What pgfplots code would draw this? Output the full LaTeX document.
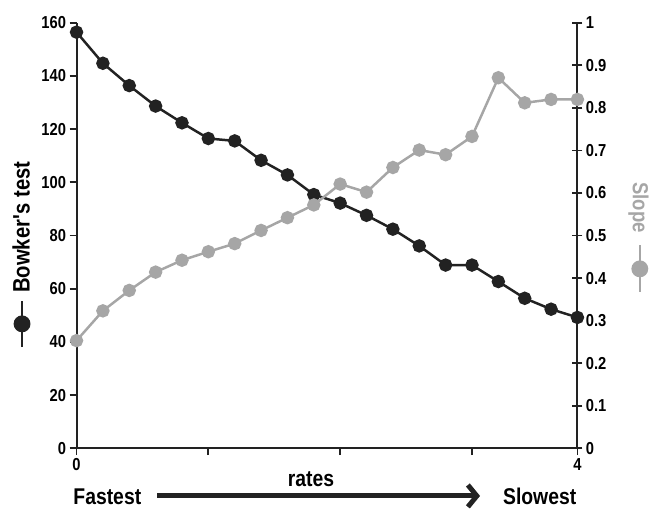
\documentclass[border=0pt]{standalone}
\usepackage{fontspec}
\setmainfont{Liberation Sans}[FakeStretch=0.85]
\usepackage{pgfplots}
\pgfplotsset{compat=1.18}
\usetikzlibrary{arrows.meta}
\definecolor{dk}{HTML}{222222}
\definecolor{gr}{HTML}{A6A6A6}

% legend-like symbol inside the y labels
\newcommand{\legsym}[1]{\tikz[baseline=-0.6ex]{\draw[#1,line width=1.8bp] (0,0)--(47bp,0); \fill[#1] (23.5bp,0) circle (8.5bp);}}

\begin{document}
\begin{tikzpicture}
\pgfplotsset{
  every axis/.append style={
    scale only axis, width=504bp, height=428bp,
    xmin=0, xmax=19,
    font=\bfseries\fontsize{17.5}{20}\selectfont,
    /pgf/number format/assume math mode=true,
    axis line style={line width=2bp, dk},
    tick style={line width=1.8bp, dk},
  },
}
\begin{axis}[
  name=ax,
  ymin=0, ymax=160, ytick distance=20,
  axis y line*=left, axis x line*=bottom,
  xtick={0,5,10,15,19}, xticklabels={0,,,,4},
  tick align=outside, major tick length=7bp,
  ylabel={\legsym{dk}\hspace{7bp}Bowker\textquotesingle s test},
  ylabel style={at={(axis description cs:-0.11,0.455)}, anchor=center, font=\bfseries\fontsize{24}{28}\selectfont},
]
\addplot[dk, line width=2.5bp, mark=*, mark size=5.5bp, mark options={fill=dk, draw=dk}] coordinates {
(0,156.5)(1,144.8)(2,136.4)(3,128.7)(4,122.4)(5,116.5)(6,115.6)(7,108.3)(8,102.8)(9,95.4)
(10,92.2)(11,87.6)(12,82.4)(13,76.1)(14,68.9)(15,68.9)(16,62.7)(17,56.4)(18,52.3)(19,49.2)};
\end{axis}
\begin{axis}[
  ymin=0, ymax=1, ytick distance=0.1,
  axis y line*=right, axis x line=none,
  tick align=center, major tick length=10bp,
  ylabel={Slope\hspace{12bp}\legsym{gr}},
  ylabel style={at={(axis description cs:1.122,0.495)}, anchor=center, rotate=180, gr, font=\bfseries\fontsize{22}{26}\selectfont},
]
\addplot[gr, line width=2.5bp, mark=*, mark size=5.5bp, mark options={fill=gr, draw=gr}] coordinates {
(0,0.253)(1,0.323)(2,0.371)(3,0.414)(4,0.442)(5,0.462)(6,0.481)(7,0.512)(8,0.542)(9,0.572)
(10,0.621)(11,0.602)(12,0.660)(13,0.701)(14,0.690)(15,0.733)(16,0.871)(17,0.812)(18,0.820)(19,0.820)};
\end{axis}
\begin{scope}[font=\bfseries\fontsize{23}{26}\selectfont]
\node[anchor=base] at ([shift={(31bp,-57bp)}]ax.south west) {Fastest};
\node[anchor=base] at ([shift={(236bp,-38bp)}]ax.south west) {rates};
\node[anchor=base] at ([shift={(466bp,-57bp)}]ax.south west) {Slowest};
\draw[dk, line width=5bp, -{Straight Barb[length=9bp, width=22bp]}] ([shift={(81bp,-48bp)}]ax.south west) -- ([shift={(406bp,-48bp)}]ax.south west);
\end{scope}
\path ([shift={(-77bp,-59bp)}]ax.south west) rectangle ++(652bp,510bp);
\end{tikzpicture}
\end{document}
